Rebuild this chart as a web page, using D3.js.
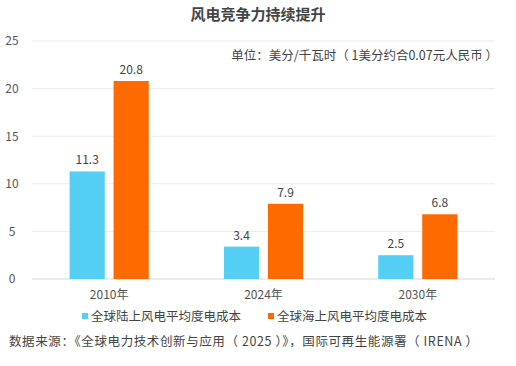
<!DOCTYPE html>
<html>
<head>
<meta charset="utf-8">
<script src="https://cdn.jsdelivr.net/npm/d3@7"></script>
<style>
  body { margin: 0; background: #fff; }
  text { font-family: "Noto Sans CJK SC", "Noto Sans", sans-serif; }
</style>
</head>
<body>
<div id="chart"></div>
<script>
// data
const years = ["2010年", "2024年", "2030年"]
const seriesNames = ["全球陆上风电平均度电成本", "全球海上风电平均度电成本"]
const onshore = [11.3, 3.4, 2.5]
const offshore = [20.8, 7.9, 6.8]
const yTicks = [0, 5, 10, 15, 20, 25]
const colors = ["#55CEF6", "#FF6A00"]

const width = 516, height = 366
const margin = {top: 41, right: 21, bottom: 87, left: 32}

const svg = d3.select("#chart").append("svg")
    .attr("width", width)
    .attr("height", height)

const x0 = d3.scaleBand()
    .domain(years)
    .range([margin.left, width - margin.right])
    .paddingInner(0.487)
    .paddingOuter(0.2435)

const x1 = d3.scaleBand()
    .domain([0, 1])
    .range([0, x0.bandwidth()])
    .paddingInner(0.2)

const y = d3.scaleLinear()
    .domain([0, 25])
    .range([height - margin.bottom, margin.top])

// gridlines
svg.append("g")
    .selectAll("line")
    .data(yTicks)
    .enter()
    .append("line")
    .attr("x1", margin.left)
    .attr("x2", width - margin.right)
    .attr("y1", d => y(d))
    .attr("y2", d => y(d))
    .attr("stroke", d => d == 0 ? "#d9d9d9" : "#ececec")
    .attr("stroke-width", 1)

// y axis labels
const yAxis = svg.append("g")
    .attr("transform", "translate(" + margin.left + ",0)")
    .call(d3.axisLeft(y).tickValues(yTicks).tickSize(0).tickPadding(10))
yAxis.select(".domain").remove()
yAxis.selectAll("text")
    .attr("fill", "#555")
    .style("font-size", "12px")
    .attr("text-anchor", "middle")
    .attr("x", -20)

// x axis labels
const xAxis = svg.append("g")
    .attr("transform", "translate(0," + (height - margin.bottom) + ")")
    .call(d3.axisBottom(x0).tickSize(0).tickPadding(11))
xAxis.select(".domain").remove()
xAxis.selectAll("text")
    .attr("fill", "#555")
    .style("font-size", "12px")

// bars
const rows = years.map((yr, i) => ({year: yr, values: [onshore[i], offshore[i]]}))
const groups = svg.append("g")
    .selectAll("g")
    .data(rows)
    .enter()
    .append("g")
    .attr("transform", d => "translate(" + x0(d.year) + ",0)")

groups.selectAll("rect")
    .data(d => d.values.map((v, k) => ({k: k, v: v})))
    .enter()
    .append("rect")
    .attr("x", d => x1(d.k))
    .attr("width", x1.bandwidth())
    .attr("y", d => y(d.v))
    .attr("height", d => y(0) - y(d.v))
    .attr("fill", d => colors[d.k])

groups.selectAll("text.val")
    .data(d => d.values.map((v, k) => ({k: k, v: v})))
    .enter()
    .append("text")
    .attr("class", "val")
    .attr("x", d => x1(d.k) + x1.bandwidth() / 2)
    .attr("y", d => y(d.v) - 7)
    .attr("text-anchor", "middle")
    .attr("fill", "#444")
    .style("font-size", "12px")
    .text(d => d.v)

// title
svg.append("text")
    .attr("x", 258)
    .attr("y", 20)
    .attr("text-anchor", "middle")
    .attr("fill", "#444")
    .style("font-size", "15px")
    .style("font-weight", "bold")
    .text("风电竞争力持续提升")

// unit note
svg.append("text")
    .attr("x", 498)
    .attr("y", 60)
    .attr("text-anchor", "end")
    .attr("fill", "#444")
    .style("font-size", "12.5px")
    .text("单位：美分/千瓦时（ 1美分约合0.07元人民币 ）")

// legend
const legendX = [82, 268]
const legend = svg.append("g")
    .selectAll("g")
    .data(seriesNames)
    .enter()
    .append("g")
    .attr("transform", (d, i) => "translate(" + legendX[i] + ",319)")
legend.append("rect")
    .attr("x", 0)
    .attr("y", -6)
    .attr("width", 6)
    .attr("height", 6)
    .attr("fill", (d, i) => colors[i])
legend.append("text")
    .attr("x", 9)
    .attr("y", 2)
    .attr("fill", "#444")
    .style("font-size", "12.5px")
    .text(d => d)

// source
svg.append("text")
    .attr("x", 9)
    .attr("y", 346)
    .attr("fill", "#444")
    .style("font-size", "12.5px")
    .style("letter-spacing", "0.6px")
    .text("数据来源：《全球电力技术创新与应用（ 2025 ）》，国际可再生能源署（ IRENA ）")
</script>
</body>
</html>
